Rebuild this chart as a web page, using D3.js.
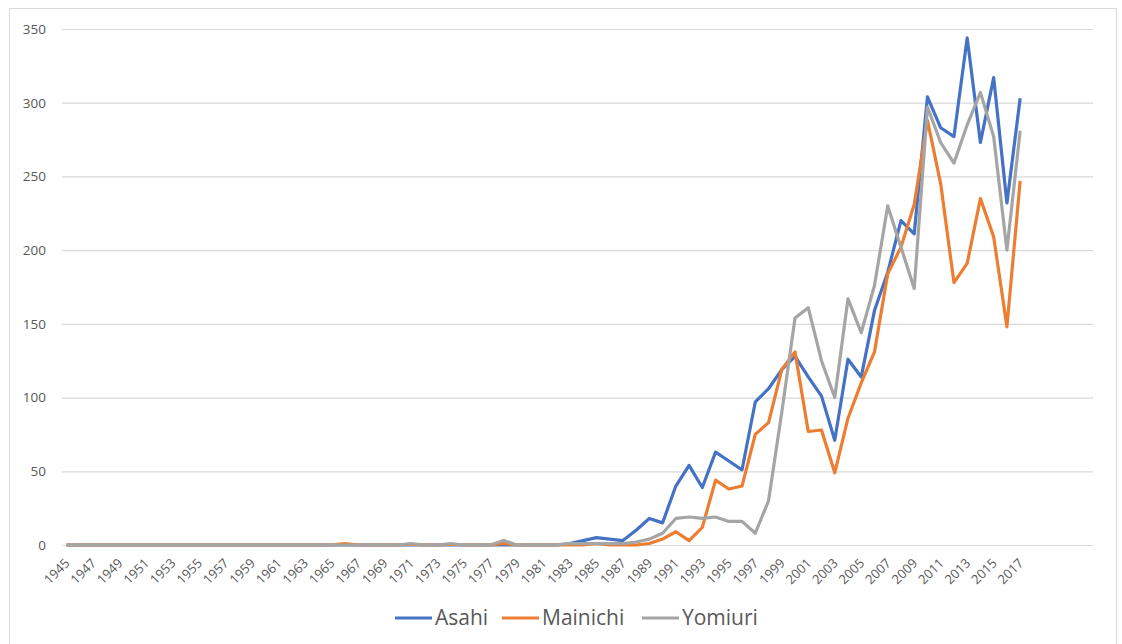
<!DOCTYPE html>
<html>
<head>
<meta charset="utf-8">
<script src="https://cdn.jsdelivr.net/npm/d3@7"></script>
<style>
  body { margin: 0; background: #fff; }
  text { font-family: "Open Sans", sans-serif; fill: #595959; }
</style>
</head>
<body>
<div class="chart"></div>
<script>
// categories: the sheet runs to 2022, only 1945-2017 carry data/labels
const years = d3.range(1945, 2023)
const labelYears = d3.range(1945, 2018, 2)
const yTicks = [0, 50, 100, 150, 200, 250, 300, 350]

const asahi = [
  0,0,0,0,0,0,0,0,0,0, 0,0,0,0,0,0,0,0,0,0,
  0,0,0,0,0,0,0,0,0,0, 0,0,0,0,0,0,0,0,
  1,3,5,4,3,10,18,15,40,54,39,63,57,51,97,106,119,128,114,101,
  71,126,114,159,185,220,211,304,283,277,344,273,317,232,303
]
const mainichi = [
  0,0,0,0,0,0,0,0,0,0, 0,0,0,0,0,0,0,0,0,0, 0,
  1,0,0,0,0,0.5,0,0,0.5,0,0,0,1,0,0,0,0,0,0,1,0,0,0,
  1,4,9,3,12,44,38,40,75,83,119,131,77,78,49,86,110,131,184,202,
  231,288,245,178,191,235,209,148,247
]
const yomiuri = [
  0,0,0,0,0,0,0,0,0,0, 0,0,0,0,0,0,0,0,0,0, 0,0,0,0,0,0,
  1,0,0,1,0,0,0,3,0,0,0,0,1,1,1,1,1,2,4,8,18,19,18,19,16,16,8,30,90,154,
  161,125,100,167,144,176,230,202,174,297,273,259,285,307,277,200,281
]

const series = [
  { name: "Asahi", values: asahi, color: "#4472C4" },
  { name: "Mainichi", values: mainichi, color: "#ED7D31" },
  { name: "Yomiuri", values: yomiuri, color: "#A5A5A5" }
]

let width = 1122
let height = 644
let margin = { left: 60, right: 29, top: 29, bottom: 99 }

let svg = d3.select(".chart")
.append("svg")
.attr("width", width)
.attr("height", height)

svg.append("rect")
.attr("x", 9.5).attr("y", 8.5)
.attr("width", 1107).attr("height", 640)
.attr("fill", "#fff")
.attr("stroke", "#d9d9d9")

let x = d3.scaleBand()
.domain(years)
.range([margin.left, width - margin.right])

let y = d3.scaleLinear()
.domain([0, 350])
.range([height - margin.bottom, margin.top])

// gridlines + y labels
let yAxis = svg.append("g")
.attr("transform", `translate(${margin.left + 2},0)`)
.call(d3.axisLeft(y).tickValues(yTicks).tickSize(-(width - margin.right - margin.left - 2)).tickPadding(16))

yAxis.select(".domain").remove()
yAxis.selectAll("line").attr("stroke", "#d9d9d9").attr("stroke-width", 1.2)
yAxis.selectAll("text").style("font-size", "13.5px").attr("fill", "#595959")

// x labels
let xAxis = svg.append("g")
.attr("transform", `translate(0,${height - margin.bottom})`)
.call(d3.axisBottom(x).tickValues(labelYears).tickSize(0).tickPadding(0))

xAxis.select(".domain").remove()
xAxis.selectAll("text")
.style("font-size", "13px")
.attr("fill", "#595959")
.attr("text-anchor", "end")
.attr("dy", 0)
.attr("transform", "translate(4,19) rotate(-45)")

let line = d3.line()
.x((d, i) => x(years[i]) + x.bandwidth() / 2)
.y(d => y(d))

series.forEach(s => {
  svg.append("path")
  .datum(s.values)
  .attr("d", line)
  .attr("fill", "none")
  .attr("stroke", s.color)
  .attr("stroke-width", 3.2)
  .attr("stroke-linejoin", "round")
})

// legend
let legendX = [395, 502, 642]
let legend = svg.selectAll(".legend")
.data(series)
.enter()
.append("g")
.attr("class", "legend")
.attr("transform", (d, i) => `translate(${legendX[i]},618)`)

legend.append("line")
.attr("x1", 0).attr("x2", 37)
.attr("stroke", d => d.color)
.attr("stroke-width", 3.2)

legend.append("text")
.attr("x", 40)
.attr("dy", "0.35em")
.style("font-size", "21px")
.text(d => d.name)
</script>
</body>
</html>
